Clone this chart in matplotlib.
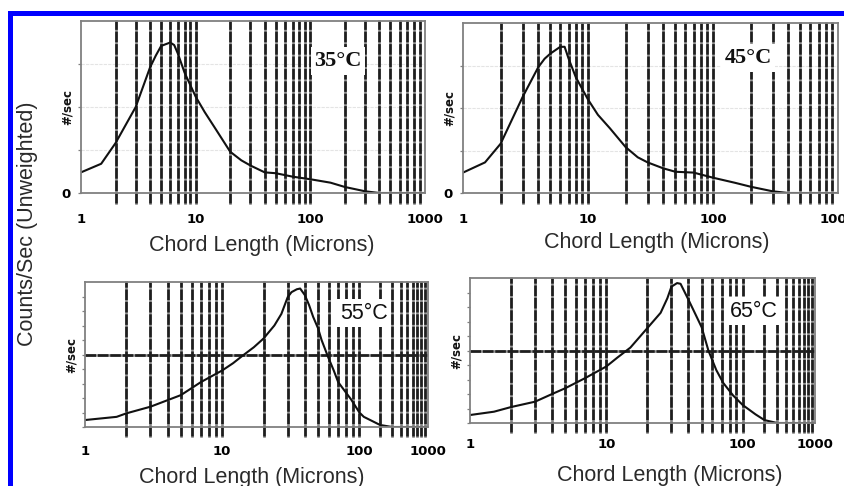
import numpy as np
import matplotlib
matplotlib.use("Agg")
import matplotlib.pyplot as plt
from matplotlib.patches import Rectangle
from matplotlib.ticker import NullLocator

# ---------------- data ----------------
x35 = [1, 1.5, 2, 3, 4, 4.5, 5, 6, 6.5, 7, 8, 10, 12, 15, 20, 25, 30, 40, 50, 70, 100, 150, 200, 300, 400, 1000]
y35 = [0.12, 0.17, 0.29, 0.50, 0.73, 0.80, 0.855, 0.875, 0.86, 0.81, 0.70, 0.56, 0.47, 0.37, 0.24, 0.19,
       0.16, 0.12, 0.115, 0.095, 0.08, 0.06, 0.035, 0.01, 0.0, 0.0]

x45 = [1, 1.5, 2, 3, 4, 4.5, 5, 6, 6.5, 7, 8, 10, 12, 15, 20, 25, 30, 40, 50, 70, 100, 150, 200, 300, 400, 1000]
y45 = [0.12, 0.18, 0.29, 0.565, 0.74, 0.79, 0.82, 0.86, 0.86, 0.79, 0.68, 0.55, 0.46, 0.38, 0.27, 0.21,
       0.18, 0.145, 0.125, 0.12, 0.09, 0.06, 0.037, 0.01, 0.0, 0.0]

x55 = [1, 1.7, 2, 3, 5, 7, 10, 12, 14, 17, 20, 24, 27, 30, 32, 35, 37, 40, 43, 46, 50, 53, 59, 65,
       70, 78, 87, 100, 116, 160, 200, 300, 1000]
y55 = [0.048, 0.07, 0.094, 0.14, 0.22, 0.31, 0.39, 0.44, 0.49, 0.55, 0.61, 0.70, 0.78, 0.895, 0.93,
       0.95, 0.955, 0.91, 0.84, 0.76, 0.68, 0.60, 0.485, 0.39, 0.31, 0.25, 0.19, 0.10, 0.07, 0.037,
       0.014, 0.0, 0.0]

x65 = [1, 1.5, 2, 3, 4, 5, 7, 10, 12, 15, 20, 25, 28, 30, 33, 35, 40, 45, 50, 56, 64, 72, 85, 100,
       150, 200, 300, 1000]
y65 = [0.055, 0.078, 0.11, 0.147, 0.20, 0.24, 0.31, 0.39, 0.45, 0.52, 0.655, 0.76, 0.86, 0.94, 0.965,
       0.96, 0.85, 0.75, 0.66, 0.50, 0.365, 0.276, 0.19, 0.124, 0.06, 0.02, 0.0, 0.0]

panel_titles = ["35°C", "45°C", "55°C", "65°C"]
xtick_vals = [1, 10, 100, 1000]
xtick_labels = ["1", "10", "100", "1000"]
grid_vals = [2, 3, 4, 5, 6, 7, 8, 9, 10, 20, 30, 40, 50, 60, 70, 80, 90,
             100, 200, 300, 400, 500, 600, 700, 800, 900]
xlabel_text = "Chord Length (Microns)"
ylabel_text = "Counts/Sec (Unweighted)"
yunit_text = "#/sec"

# ---------------- layout ----------------
W, H = 845, 486
fig = plt.figure(figsize=(W / 100, H / 100), dpi=100)


def box(l, t, r, b):
    return [l / W, 1 - b / H, (r - l) / W, (b - t) / H]


def compressed_scale(k):
    def fwd(x):
        x = np.asarray(x, dtype=float)
        l = np.log10(np.clip(x, 1e-12, None))
        return np.where(l <= 2, l, 2 + (l - 2) * k)

    def inv(y):
        y = np.asarray(y, dtype=float)
        return np.where(y <= 2, 10 ** y, 10 ** (2 + (y - 2) / k))
    return fwd, inv


GRID_C = "#1e1e1e"
GRID_UNDER = "#8c8c8c"
SPINE_C = "#808080"
NARROW = ["DejaVu Sans Condensed", "Liberation Sans Narrow", "DejaVu Sans"]
tick_font = dict(family=NARROW, weight="bold", size=9.5)


def setup(ax, x, y, title, title_kw, title_pos, yticks, zero_label, ext, xpad, wpx,
          hline=False, faint=False):
    ax.set_ylim(0, 1)
    ax.set_xlim(1, 1000)
    ax.plot(x, y, color="#111111", lw=1.5, zorder=4, solid_joinstyle="round")
    for g in grid_vals:
        ax.axvline(g, ymin=-ext, ymax=1, color=GRID_UNDER, lw=1.9, clip_on=False, zorder=2)
        ax.axvline(g, ymin=-ext, ymax=1, color=GRID_C, lw=1.9, ls=(0, (4, 0.7)),
                   clip_on=False, zorder=2.1)
    if hline:
        ax.axhline(0.5, color=GRID_UNDER, lw=1.9, zorder=2)
        ax.axhline(0.5, color=GRID_C, lw=1.9, ls=(0, (4, 0.7)), zorder=2.1)
    if faint:
        for v in yticks[1:]:
            ax.axhline(v, color="#e4e4e4", lw=0.8, ls=(0, (3, 1)), zorder=1)
    ax.set_xticks(xtick_vals)
    ax.set_xticklabels(xtick_labels, fontdict=tick_font)
    ax.xaxis.set_minor_locator(NullLocator())
    ax.tick_params(axis="x", length=0, pad=xpad)
    ax.set_yticks(yticks)
    ax.set_yticklabels(["0" if (zero_label and v == 0) else "" for v in yticks], fontdict=tick_font)
    ax.yaxis.set_minor_locator(NullLocator())
    ax.tick_params(axis="y", length=2.5, width=0.9, color=SPINE_C, pad=5)
    for s in ax.spines.values():
        s.set_color(SPINE_C)
        s.set_linewidth(1.3)
        s.set_zorder(5)
    ax.text(title_pos[0], title_pos[1], title, transform=ax.transAxes, ha="center", va="center",
            zorder=6, bbox=dict(fc="white", ec="none", pad=2.5), **title_kw)
    ax.text(-13.5 / wpx, 0.5, yunit_text, transform=ax.transAxes, rotation=90,
            ha="center", va="center", fontsize=8.5, fontweight="bold", color="#111",
            family=NARROW)


serif_title = dict(family="Liberation Serif", fontweight="bold", fontsize=16, color="#111")
sans_title = dict(family="Liberation Sans", fontsize=15.5, color="#111")

# panel 1 (35 °C)
ax1 = fig.add_axes(box(81, 21, 425, 193))
ax1.set_xscale("log")
setup(ax1, x35, y35, panel_titles[0], serif_title, ((338 - 81) / 344, (193 - 61) / 172),
      [0, 0.25, 0.5, 0.75], True, 0.058, 14.5, 344, faint=True)

# panel 2 (45 °C)
ax2 = fig.add_axes(box(463, 23, 838, 193))
ax2.set_xscale("log")
setup(ax2, x45, y45, panel_titles[1], serif_title, ((748 - 463) / 375, (193 - 58) / 170),
      [0, 0.25, 0.5, 0.75], True, 0.058, 14.5, 375, faint=True)

# panel 3 (55 °C)
ax3 = fig.add_axes(box(85, 282, 428, 427))
ax3.set_xscale("function", functions=compressed_scale(0.5))
setup(ax3, x55, y55, panel_titles[2], sans_title, ((364 - 85) / 343, (427 - 313) / 145),
      list(np.round(np.arange(0, 1.0, 0.1), 2)), False, 0.065, 13, 343, hline=True)

# panel 4 (65 °C)
ax4 = fig.add_axes(box(470, 278, 815, 423))
ax4.set_xscale("function", functions=compressed_scale(0.53))
setup(ax4, x65, y65, panel_titles[3], sans_title, ((754 - 470) / 345, (423 - 311) / 145),
      list(np.round(np.arange(0, 1.0, 0.1), 2)), False, 0.065, 10.8, 345, hline=True)

# axis titles
lab_kw = dict(family="Liberation Sans", fontsize=15.5, color="#2a2a2a", ha="center", va="center")
fig.text(262 / W, 1 - 246 / H, xlabel_text, **lab_kw)
fig.text(657 / W, 1 - 242 / H, xlabel_text, **lab_kw)
fig.text(252 / W, 1 - 477 / H, xlabel_text, **lab_kw)
fig.text(670 / W, 1 - 475 / H, xlabel_text, **lab_kw)
fig.text(28 / W, 1 - 224 / H, ylabel_text, rotation=90, **lab_kw)

# blue frame
fig.add_artist(Rectangle((8 / W, 1 - 16 / H), (W - 8) / W, 5 / H, transform=fig.transFigure,
                         fc="#0000ff", ec="none"))
fig.add_artist(Rectangle((8 / W, 0), 5 / W, (H - 11) / H, transform=fig.transFigure,
                         fc="#0000ff", ec="none"))

fig.savefig("out.png", dpi=100, facecolor="white")
